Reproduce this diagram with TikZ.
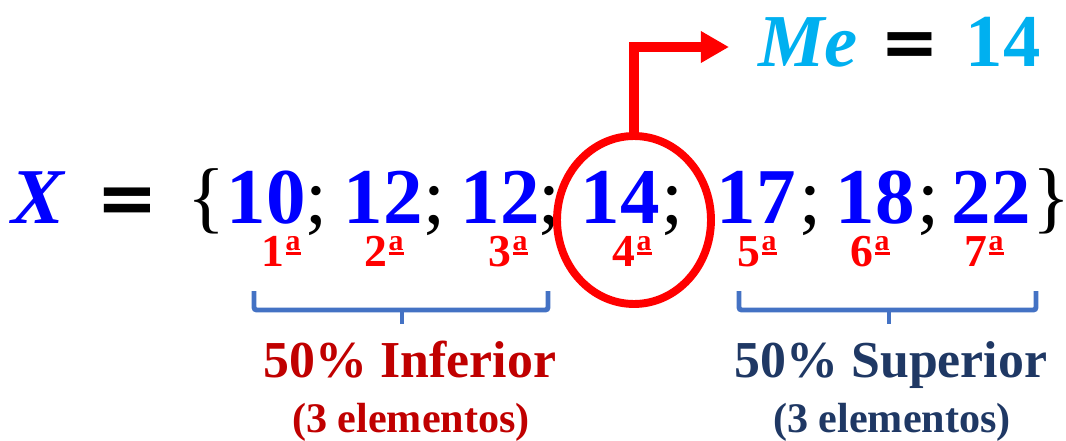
\documentclass[tikz,border=0pt]{standalone}
\usepackage{fontspec}
\setmainfont{Liberation Serif}
\newfontfamily\eqfont{DejaVu Sans}
\usetikzlibrary{arrows.meta,shapes.geometric}
\definecolor{azul}{RGB}{0,0,255}
\definecolor{vermelho}{RGB}{255,0,0}
\definecolor{ciano}{RGB}{0,176,240}
\definecolor{azulchave}{RGB}{68,114,196}
\definecolor{vinho}{RGB}{192,0,0}
\definecolor{marinho}{RGB}{31,56,100}
% a sublinhado do ordinal
\newcommand{\ordfem}{\kern0.8pt\raisebox{9pt}{\fontsize{17}{17}\selectfont\bfseries
    \setbox0\hbox{a}\rlap{\rule[-2.6pt]{\wd0}{1.4pt}}\box0}}
\begin{document}
\begin{tikzpicture}[x=0.02cm, y=-0.02cm,
    num/.style={anchor=base, inner sep=0pt, text=azul, font=\fontsize{45}{45}\selectfont\bfseries},
    sep/.style={anchor=base, inner sep=0pt, font=\fontsize{45}{45}\selectfont},
    ord/.style={anchor=base, inner sep=0pt, text=vermelho, font=\fontsize{26}{26}\selectfont\bfseries},
    igual/.style={anchor=base, inner sep=0pt, font=\fontsize{42}{42}\selectfont\eqfont\bfseries},
    chave/.style={draw=azulchave, line width=2.8pt, rounded corners=1.5pt},
    metade/.style={anchor=base, inner sep=0pt, font=\fontsize{29.5}{29.5}\selectfont\bfseries},
    qtd/.style={anchor=base, inner sep=0pt, font=\fontsize{24}{24}\selectfont\bfseries}]
    \useasboundingbox (0,0) rectangle (1066,440);

    % Conjunto X
    \node [sep, text=azul, font=\fontsize{45}{45}\selectfont\bfseries\itshape] (x) at (38,223) {X};
    \node [igual] (eq) at (127,223) {=};
    \node [sep] (abre) at (206,223) {\{};
    \node [num] (n1) at (266,223) {10};
    \node [sep] (p1) at (316,223) {;};
    \node [num] (n2) at (383,223) {12};
    \node [sep] (p2) at (434,223) {;};
    \node [num] (n3) at (500,223) {12};
    \node [sep] (p3) at (549,223) {;};
    \node [num] (n4) at (620,223) {14};
    \node [sep] (p4) at (672,223) {;};
    \node [num] (n5) at (756,223) {17};
    \node [sep] (p5) at (810,223) {;};
    \node [num] (n6) at (875,223) {18};
    \node [sep] (p6) at (928,223) {;};
    \node [num] (n7) at (991,223) {22};
    \node [sep] (fecha) at (1051,223) {\}};

    % Posicoes
    \node [ord] (o1) at (281,266) {1\ordfem};
    \node [ord] (o2) at (384,266) {2\ordfem};
    \node [ord] (o3) at (508,266) {3\ordfem};
    \node [ord] (o4) at (632,266) {4\ordfem};
    \node [ord] (o5) at (757,266) {5\ordfem};
    \node [ord] (o6) at (870,266) {6\ordfem};
    \node [ord] (o7) at (984,266) {7\ordfem};

    % Mediana
    \node [draw=vermelho, line width=4.5pt, ellipse, inner sep=0pt,
           minimum width=3.08cm, minimum height=3.36cm] (med) at (634,220) {};
    \coordinate (ponta) at (729,47);
    \draw [vermelho, line width=5.7pt, -{Triangle[length=16pt, width=17pt]}]
        (med.north) |- (ponta);
    \node [sep, text=ciano, font=\fontsize{42.5}{42.5}\selectfont\bfseries\itshape] (me) at (808,66) {Me};
    \node [igual, font=\fontsize{40}{40}\selectfont\eqfont\bfseries] (eq2) at (910,66) {=};
    \node [sep, text=ciano, font=\fontsize{42.5}{42.5}\selectfont\bfseries] (mev) at (1003,66) {14};

    % Chaves
    \draw [chave] (254,291) -- (254,310) -- (548,310) -- (548,291);
    \draw [chave] (402,310) -- (402,324);
    \draw [chave] (739,291) -- (739,310) -- (1036,310) -- (1036,291);
    \draw [chave] (889,310) -- (889,324);

    % Legendas
    \node [metade, text=vinho] (inf) at (410,377) {50\% Inferior};
    \node [qtd, text=vinho] (inf2) at (411,432) {(3 elementos)};
    \node [metade, text=marinho] (sup) at (891,377) {50\% Superior};
    \node [qtd, text=marinho] (sup2) at (892,432) {(3 elementos)};
\end{tikzpicture}
\end{document}
